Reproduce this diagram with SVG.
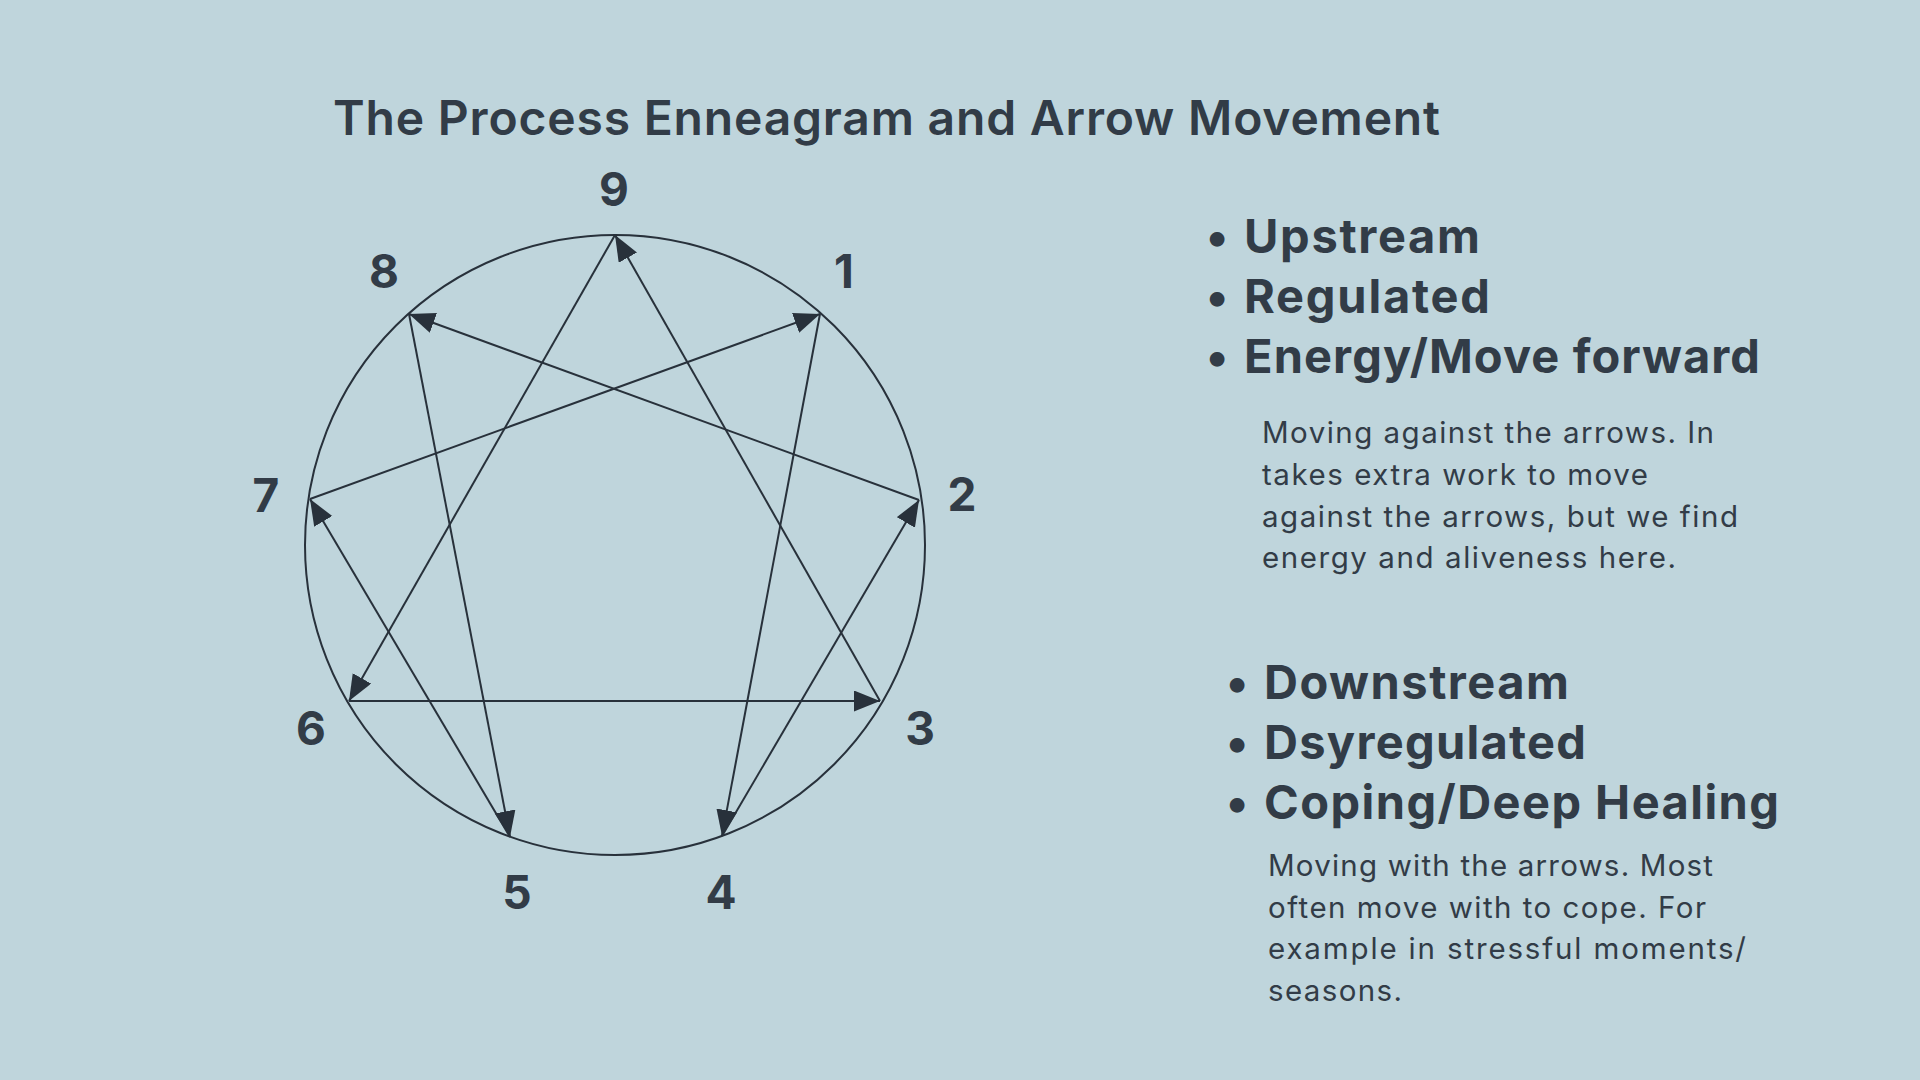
<svg xmlns="http://www.w3.org/2000/svg" width="1920" height="1080" viewBox="0 0 1920 1080">
<style>
.bg{fill:#bfd5dc}
.t{font-family:Inter,"Open Sans","Liberation Sans",sans-serif;fill:#323c47}
.title{font-size:48px;font-weight:600}
.num{font-size:46px;font-weight:700;text-anchor:middle}
.head{font-size:47px;font-weight:700}
.body{font-size:29.5px;font-weight:400}
.ln{stroke:#28313b;stroke-width:2;fill:none}
</style>
<defs>
<marker id="ah" markerUnits="userSpaceOnUse" markerWidth="28" markerHeight="22" refX="26" refY="10.5" orient="auto">
<path d="M0,0 L26,10.5 L0,21 z" fill="#28313b"/>
</marker>
</defs>
<rect class="bg" x="0" y="0" width="1920" height="1080"/>
<text class="t title" x="333" y="135" textLength="1107" lengthAdjust="spacing">The Process Enneagram and Arrow Movement</text>

<g id="circle"><circle class="ln" cx="615" cy="545" r="310"/></g>

<g id="node-9"><text class="t num" x="614" y="206">9</text></g>
<g id="node-1"><text class="t num" x="844" y="288">1</text></g>
<g id="node-2"><text class="t num" x="962" y="511">2</text></g>
<g id="node-3"><text class="t num" x="920" y="745">3</text></g>
<g id="node-4"><text class="t num" x="721" y="909">4</text></g>
<g id="node-5"><text class="t num" x="517" y="909">5</text></g>
<g id="node-6"><text class="t num" x="311" y="745">6</text></g>
<g id="node-7"><text class="t num" x="266" y="512">7</text></g>
<g id="node-8"><text class="t num" x="384" y="288">8</text></g>

<g id="connectors">
<line class="ln" x1="615" y1="235" x2="349" y2="701" marker-end="url(#ah)"/>
<line class="ln" x1="349" y1="701" x2="880" y2="701" marker-end="url(#ah)"/>
<line class="ln" x1="880" y1="701" x2="615" y2="235" marker-end="url(#ah)"/>
<line class="ln" x1="820" y1="314" x2="722" y2="836" marker-end="url(#ah)"/>
<line class="ln" x1="722" y1="836" x2="919" y2="500" marker-end="url(#ah)"/>
<line class="ln" x1="919" y1="500" x2="409" y2="314" marker-end="url(#ah)"/>
<line class="ln" x1="409" y1="314" x2="510" y2="837" marker-end="url(#ah)"/>
<line class="ln" x1="510" y1="837" x2="310" y2="499" marker-end="url(#ah)"/>
<line class="ln" x1="310" y1="499" x2="820" y2="314" marker-end="url(#ah)"/>
</g>

<g id="upstream">
<text class="t head" x="1206" y="253">•</text>
<text class="t head" x="1244" y="253" textLength="236" lengthAdjust="spacing">Upstream</text>
<text class="t head" x="1206" y="313">•</text>
<text class="t head" x="1244" y="313" textLength="246" lengthAdjust="spacing">Regulated</text>
<text class="t head" x="1206" y="373">•</text>
<text class="t head" x="1244" y="373" textLength="516" lengthAdjust="spacing">Energy/Move forward</text>
<text class="t body" x="1262" y="443" textLength="452" lengthAdjust="spacing">Moving against the arrows. In</text>
<text class="t body" x="1262" y="485" textLength="386" lengthAdjust="spacing">takes extra work to move</text>
<text class="t body" x="1262" y="527" textLength="476" lengthAdjust="spacing">against the arrows, but we find</text>
<text class="t body" x="1262" y="568" textLength="414" lengthAdjust="spacing">energy and aliveness here.</text>
</g>

<g id="downstream">
<text class="t head" x="1226" y="699">•</text>
<text class="t head" x="1264" y="699" textLength="305" lengthAdjust="spacing">Downstream</text>
<text class="t head" x="1226" y="759">•</text>
<text class="t head" x="1264" y="759" textLength="322" lengthAdjust="spacing">Dsyregulated</text>
<text class="t head" x="1226" y="819">•</text>
<text class="t head" x="1264" y="819" textLength="515" lengthAdjust="spacing">Coping/Deep Healing</text>
<text class="t body" x="1268" y="876" textLength="445" lengthAdjust="spacing">Moving with the arrows. Most</text>
<text class="t body" x="1268" y="918" textLength="438" lengthAdjust="spacing">often move with to cope. For</text>
<text class="t body" x="1268" y="959" textLength="478" lengthAdjust="spacing">example in stressful moments/</text>
<text class="t body" x="1268" y="1001" textLength="134" lengthAdjust="spacing">seasons.</text>
</g>
</svg>
